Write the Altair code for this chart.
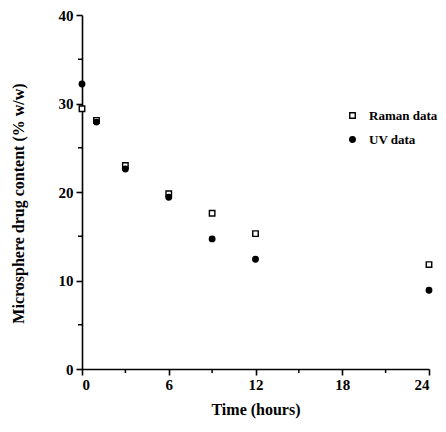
import altair as alt
import pandas as pd

times = [0, 1, 3, 6, 9, 12, 24]
raman = [29.4, 28.1, 23.0, 19.8, 17.6, 15.3, 11.8]
uv = [32.2, 27.9, 22.6, 19.4, 14.7, 12.4, 8.9]
series_names = ["Raman data", "UV data"]
x_major = [0, 6, 12, 18, 24]
x_minor = [3, 9, 15, 21]
y_major = [0, 10, 20, 30, 40]
y_minor = [5, 15, 25, 35]

rows = []
for t, v in zip(times, raman):
    rows.append({"time": t, "value": v, "series": series_names[0], "order": 0})
for t, v in zip(times, uv):
    rows.append({"time": t, "value": v, "series": series_names[1], "order": 1})
df = pd.DataFrame(rows)

FONT = "Liberation Serif"
W, H = 347, 354

legend_kw = dict(title=None, orient="none", legendX=264, legendY=94,
                 labelFont=FONT, labelFontWeight="bold", labelFontSize=13,
                 labelColor="black", symbolSize=30, rowPadding=10,
                 labelOffset=10, symbolStrokeWidth=1.4)

xs = alt.Scale(domain=[0, 24], nice=False, zero=False)
ys = alt.Scale(domain=[0, 40], nice=False)

points = alt.Chart(df).mark_point(size=30, strokeWidth=1.4, opacity=1).encode(
    x=alt.X("time:Q", title="Time  (hours)", scale=xs,
            axis=alt.Axis(values=x_major, grid=False, tickSize=6,
                          labelPadding=2, titlePadding=9)),
    y=alt.Y("value:Q", title="Microsphere drug content  (% w/w)", scale=ys,
            axis=alt.Axis(values=y_major, grid=False, tickSize=6,
                          labelPadding=3, titlePadding=32, titleY=188)),
    shape=alt.Shape("series:N", scale=alt.Scale(domain=series_names, range=["square", "circle"]),
                    legend=alt.Legend(**legend_kw)),
    fill=alt.Fill("series:N", scale=alt.Scale(domain=series_names, range=["white", "black"]),
                  legend=alt.Legend(**legend_kw)),
    stroke=alt.value("black"),
    order=alt.Order("order:Q"),
)

xminor = alt.Chart(pd.DataFrame({"time": x_minor})).mark_rule(color="black", strokeWidth=1.5).encode(
    x=alt.X("time:Q", scale=xs),
    y=alt.value(H), y2=alt.value(H + 4),
)
yminor = alt.Chart(pd.DataFrame({"value": y_minor})).mark_rule(color="black", strokeWidth=1.5).encode(
    y=alt.Y("value:Q", scale=ys),
    x=alt.value(0), x2=alt.value(-4),
)

chart = alt.layer(points, xminor, yminor).properties(
    width=W, height=H,
    autosize=alt.AutoSizeParams(type="none"),
    padding={"left": 74, "top": 7, "right": 9, "bottom": 50},
).configure_view(stroke=None).configure_axis(
    domainColor="black", domainWidth=1.6, tickColor="black", tickWidth=1.6,
    labelFont=FONT, labelFontWeight="bold", labelFontSize=15, labelColor="black",
    titleFont=FONT, titleFontWeight="bold", titleFontSize=16, titleColor="black",
)

chart.save("out.html", embed_options={"renderer": "svg", "actions": False})
